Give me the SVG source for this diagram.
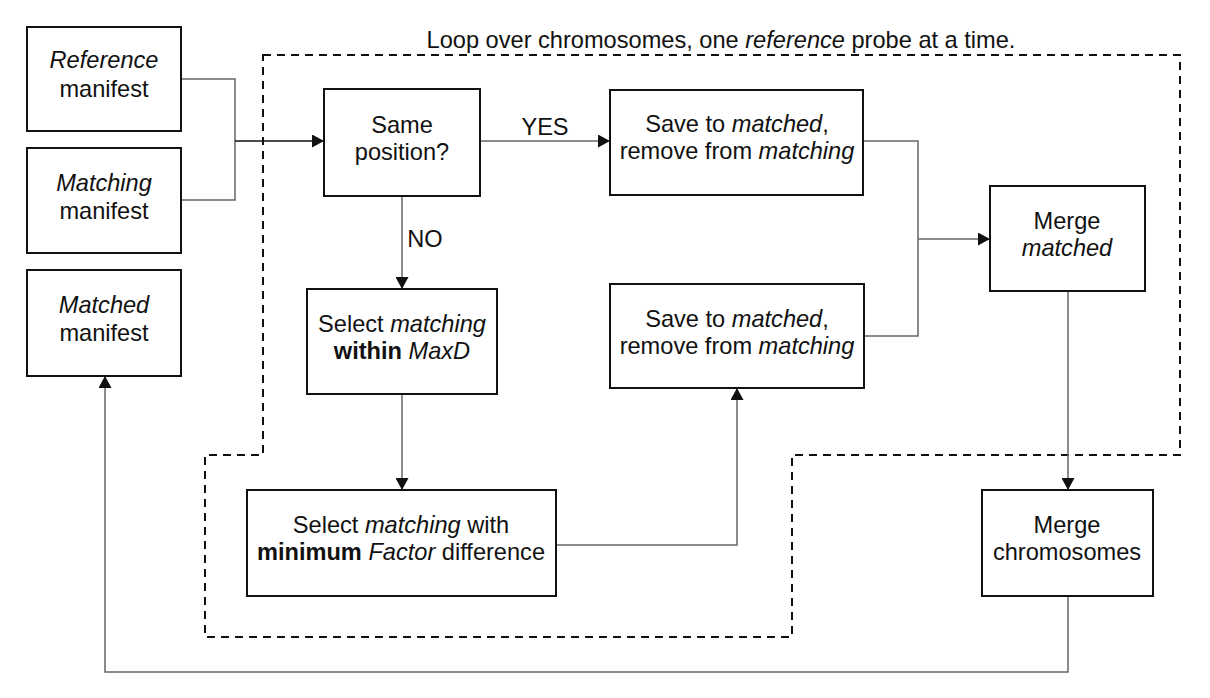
<svg xmlns="http://www.w3.org/2000/svg" width="1210" height="698" viewBox="0 0 1210 698">
<style>
text{font-family:"Liberation Sans",Arial,sans-serif;font-size:23.6px;fill:#111;text-anchor:middle}
.box{fill:#fff;stroke:#111;stroke-width:2}
.ln{fill:none;stroke:#666;stroke-width:1.5}
.dk{fill:none;stroke:#111;stroke-width:1.3}
.dash{fill:none;stroke:#111;stroke-width:2;stroke-dasharray:8 6}
.i{font-style:italic}
.b{font-weight:bold}
</style>
<defs>
<marker id="ah" markerUnits="userSpaceOnUse" markerWidth="13" markerHeight="13" refX="12" refY="6.5" orient="auto">
<path d="M0,0 L12,6.5 L0,13 z" fill="#111"/>
</marker>
</defs>
<rect width="1210" height="698" fill="#fff"/>
<g id="loop">
<path class="dash" d="M263,55 H1180 V455 H792 V637 H205 V455 H263 Z"/>
<text x="721" y="48">Loop over chromosomes, one <tspan class="i">reference</tspan> probe at a time.</text>
</g>
<g id="connectors">
<path class="ln" d="M181,79 H235 V200 H181"/>
<path class="dk" d="M235,141 H324" marker-end="url(#ah)"/>
<path class="ln" d="M480,141 H610" marker-end="url(#ah)"/>
<text x="545" y="135">YES</text>
<path class="ln" d="M402,196 V289" marker-end="url(#ah)"/>
<text x="425" y="247">NO</text>
<path class="ln" d="M402,394 V490" marker-end="url(#ah)"/>
<path class="ln" d="M556,545 H737 V388" marker-end="url(#ah)"/>
<path class="ln" d="M863,141 H918 V336 H864"/>
<path class="ln" d="M918,239 H990" marker-end="url(#ah)"/>
<path class="ln" d="M1068,291 V490" marker-end="url(#ah)"/>
<path class="ln" d="M1068,596 V672 H105 V376" marker-end="url(#ah)"/>
</g>
<g id="reference-manifest">
<rect class="box" x="27" y="27" width="154" height="104"/>
<text x="104" y="68"><tspan class="i">Reference</tspan></text>
<text x="104" y="97">manifest</text>
</g>
<g id="matching-manifest">
<rect class="box" x="27" y="148" width="154" height="105"/>
<text x="104" y="191"><tspan class="i">Matching</tspan></text>
<text x="104" y="219">manifest</text>
</g>
<g id="matched-manifest">
<rect class="box" x="27" y="270" width="154" height="106"/>
<text x="104" y="313"><tspan class="i">Matched</tspan></text>
<text x="104" y="341">manifest</text>
</g>
<g id="same-position">
<rect class="box" x="324" y="89" width="156" height="107"/>
<text x="402" y="133">Same</text>
<text x="402" y="160">position?</text>
</g>
<g id="save-top">
<rect class="box" x="610" y="90" width="253" height="105"/>
<text x="737" y="132">Save to <tspan class="i">matched</tspan>,</text>
<text x="737" y="159">remove from <tspan class="i">matching</tspan></text>
</g>
<g id="save-bottom">
<rect class="box" x="610" y="284" width="254" height="104"/>
<text x="737" y="327">Save to <tspan class="i">matched</tspan>,</text>
<text x="737" y="354">remove from <tspan class="i">matching</tspan></text>
</g>
<g id="merge-matched">
<rect class="box" x="990" y="186" width="155" height="105"/>
<text x="1067" y="229">Merge</text>
<text x="1067" y="256"><tspan class="i">matched</tspan></text>
</g>
<g id="select-maxd">
<rect class="box" x="307" y="289" width="190" height="105"/>
<text x="402" y="332">Select <tspan class="i">matching</tspan></text>
<text x="402" y="359"><tspan class="b">within</tspan> <tspan class="i">MaxD</tspan></text>
</g>
<g id="select-min-factor">
<rect class="box" x="247" y="490" width="309" height="106"/>
<text x="401" y="533">Select <tspan class="i">matching</tspan> with</text>
<text x="401" y="560"><tspan class="b">minimum</tspan> <tspan class="i">Factor</tspan> difference</text>
</g>
<g id="merge-chromosomes">
<rect class="box" x="982" y="490" width="171" height="106"/>
<text x="1067" y="533">Merge</text>
<text x="1067" y="560">chromosomes</text>
</g>
</svg>
